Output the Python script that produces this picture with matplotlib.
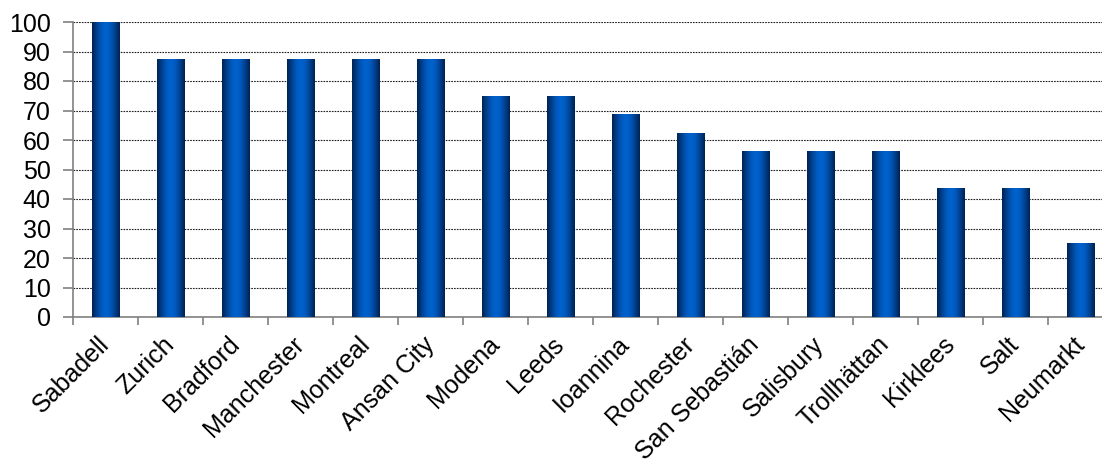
import numpy as np
import matplotlib.pyplot as plt
from matplotlib.colors import LinearSegmentedColormap

plt.rcParams['font.family'] = ['Liberation Sans', 'DejaVu Sans']

cities = ['Sabadell', 'Zurich', 'Bradford', 'Manchester', 'Montreal', 'Ansan City',
          'Modena', 'Leeds', 'Ioannina', 'Rochester', 'San Sebastián', 'Salisbury',
          'Trollhättan', 'Kirklees', 'Salt', 'Neumarkt']
scores = [100, 87.5, 87.5, 87.5, 87.5, 87.5, 75, 75, 68.75, 62.5,
          56.25, 56.25, 56.25, 43.75, 43.75, 25]

fig = plt.figure(figsize=(11.02, 4.59), dpi=100)
ax = fig.add_axes([73 / 1102, 142 / 459, 1040 / 1102, 295 / 459])

x = np.arange(len(cities))
width = 0.42
bars = ax.bar(x, scores, width=width, color='none', edgecolor='none', zorder=3)

# cylinder-like shading: dark edges, bright middle
cmap = LinearSegmentedColormap.from_list(
    'cyl', ['#00224f', '#003f8c', '#0058bb', '#0063cf', '#0058bb', '#003f8c', '#00224f'])
grad = np.linspace(0, 1, 256).reshape(1, -1)
for b in bars:
    x0, y0 = b.get_x(), b.get_y()
    im = ax.imshow(grad, cmap=cmap, aspect='auto', zorder=3,
                   extent=[x0, x0 + b.get_width(), y0, y0 + b.get_height()])
    im.set_clip_path(b)

ax.set_xlim(-0.5, len(cities) - 0.5)
ax.set_ylim(0, 100)
ax.set_yticks(np.arange(0, 101, 10))
ax.yaxis.grid(True, color='#202020', linestyle=(0, (1.5, 1)), linewidth=0.8, zorder=0)
ax.set_axisbelow(True)

ax.set_xticks(x)
ax.set_xticklabels(cities, rotation=45, ha='right', va='center', rotation_mode='anchor')
ax.set_xticks(np.arange(-0.5, len(cities), 1), minor=True)
ax.tick_params(axis='x', which='major', length=0, pad=17, labelsize=18)
ax.tick_params(axis='x', which='minor', length=6, color='#808080', width=1.2)
ax.tick_params(axis='y', length=7, color='#808080', width=1.2, labelsize=18, pad=9)

for s in ['top', 'right']:
    ax.spines[s].set_visible(False)
for s in ['left', 'bottom']:
    ax.spines[s].set_color('#808080')
    ax.spines[s].set_linewidth(1.2)

fig.savefig('out.png', dpi=100)
